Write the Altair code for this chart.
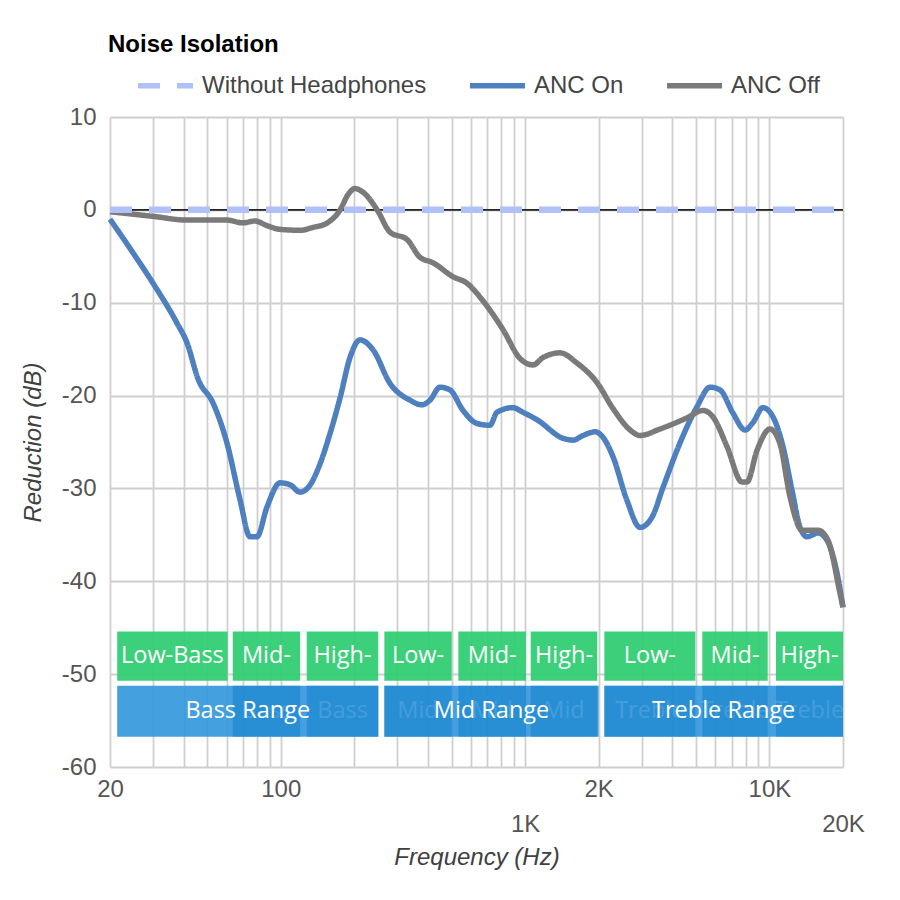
import altair as alt
import pandas as pd

# ---------------- data ----------------
on_hz = [20, 24.8, 30, 37.6, 41.3, 46, 52.8, 60.2, 68.1, 74.8, 79.9, 87.8, 99.3, 109, 120, 132,
         145, 159, 175, 192, 211, 239, 280, 338, 378, 408, 448, 493, 557, 635, 718, 767, 892,
         980, 1119, 1429, 1570, 1726, 1932, 2084, 2290, 2612, 2952, 3306, 3667, 4304, 5053,
         5712, 6276, 7093, 7943, 8564, 9410, 10340, 11364, 12368, 13344, 14250, 15804, 17206,
         18904, 20000]
on_db = [-1.0, -4.6, -7.9, -12.2, -14.3, -18.3, -20.8, -25.1, -31.2, -35.2, -35.2, -32.0, -29.4,
         -29.6, -30.4, -29.6, -27.3, -24.1, -20.2, -15.9, -14.0, -15.1, -18.7, -20.5, -21.0,
         -20.5, -19.1, -19.4, -21.6, -23.0, -23.2, -21.8, -21.3, -21.8, -22.6, -24.6, -24.8,
         -24.3, -23.9, -24.5, -26.6, -31.3, -34.2, -33.1, -29.9, -25.1, -21.2, -19.1, -19.4,
         -21.9, -23.7, -22.9, -21.3, -22.3, -25.5, -30.2, -34.2, -35.2, -34.8, -35.6, -39.1,
         -42.8]

off_hz = [20, 30, 41.3, 60.2, 70, 78.4, 87.8, 99.3, 120, 135, 155, 175, 188, 201, 217, 248, 280,
          329, 371, 420, 507, 578, 654, 718, 812, 953, 1077, 1184, 1390, 1631, 1969, 2290, 2688,
          2952, 3565, 4598, 5346, 5875, 6704, 7720, 8094, 8894, 10050, 11046, 12136, 13596,
          15804, 17370, 19446, 20000]
off_db = [-0.2, -0.7, -1.1, -1.1, -1.4, -1.2, -1.7, -2.1, -2.2, -1.9, -1.4, 0.0, 1.6, 2.3, 1.9,
          0.0, -2.4, -3.2, -5.1, -5.7, -7.2, -7.9, -9.4, -10.8, -12.9, -16.0, -16.7, -15.9,
          -15.4, -16.5, -18.6, -21.4, -23.7, -24.3, -23.6, -22.4, -21.6, -22.3, -25.5, -29.3,
          -29.3, -25.9, -23.6, -25.2, -30.9, -34.5, -34.5, -35.6, -41.3, -42.8]

ref_hz = [20, 20000]
ref_db = [0, 0]

series_names = ["Without Headphones", "ANC On", "ANC Off"]
series_colors = ["#b0c0f8", "#4e7fbf", "#7a7a7a"]
series_dash = [[22, 17], [1, 0], [1, 0]]

x_grid = [20, 30, 40, 50, 60, 70, 80, 90, 100, 200, 300, 400, 500, 600, 700, 800, 900,
          1000, 2000, 3000, 4000, 5000, 6000, 7000, 8000, 9000, 10000, 20000]
y_ticks = [10, 0, -10, -20, -30, -40, -50, -60]

green_labels = ["Low-Bass", "Mid-", "High-", "Low-", "Mid-", "High-", "Low-", "Mid-", "High-"]
green_start = [21.4, 63.6, 127.7, 265.4, 533, 1054, 2110, 5312, 10636]
green_end = [60.6, 120, 250.7, 500.6, 1008, 1974, 4973, 9836, 20000]
green_y = [-45.4, -50.7]

range_labels = ["Bass Range", "Mid Range", "Treble Range"]
range_start = [21.4, 265.4, 2110]
range_end = [250.7, 2000, 20000]
blue_y = [-51.25, -56.75]

sub_labels = ["Bass", "Bass", "Mid", "Mid", "Mid", "Treble", "Treble", "Treble"]
sub_start = green_start[1:]
sub_end = green_end[1:]

# ---------------- tables ----------------
on_df = pd.DataFrame({"hz": on_hz, "db": on_db, "series": "ANC On"})
off_df = pd.DataFrame({"hz": off_hz, "db": off_db, "series": "ANC Off"})
ref_df = pd.DataFrame({"hz": ref_hz, "db": ref_db, "series": "Without Headphones"})


def band_df(labels, start, end, yy):
    d = pd.DataFrame({"label": labels, "start": start, "end": end})
    d["y0"] = yy[0]
    d["y1"] = yy[1]
    d["mid"] = (d["start"] * d["end"]) ** 0.5
    d["ymid"] = (yy[0] + yy[1]) / 2
    return d


green_df = band_df(green_labels, green_start, green_end, green_y)
range_df = band_df(range_labels, range_start, range_end, blue_y)
sub_df = band_df(sub_labels, sub_start, sub_end, blue_y)

FONT = "Liberation Sans"
BAND_FONT = "Open Sans"
FS = 24
BFS = 23.5

x_scale = alt.Scale(type="log", domain=[20, 20000], nice=False)
y_scale = alt.Scale(domain=[-60, 10], nice=False, zero=False)

label_expr = ("datum.value == 20 ? '20' : datum.value == 100 ? '100' : "
              "datum.value == 1000 ? ['', '1K'] : datum.value == 2000 ? '2K' : "
              "datum.value == 10000 ? '10K' : datum.value == 20000 ? ['', '20K'] : ''")

x_axis = alt.Axis(values=x_grid, labelExpr=label_expr, title="Frequency (Hz)",
                  titleFontStyle="italic", titleFontWeight="normal", ticks=False, domain=False,
                  labelFlush=False, labelOverlap=False, labelPadding=10, labelLineHeight=35,
                  titlePadding=9)
y_axis = alt.Axis(values=y_ticks, labelExpr="'' + datum.value", title="Reduction (dB)",
                  titleFontStyle="italic", titleFontWeight="normal", ticks=False, domain=False,
                  labelFlush=False, labelOverlap=False, labelPadding=14, titlePadding=16)

color_enc = alt.Color("series:N", scale=alt.Scale(domain=series_names, range=series_colors),
                      legend=alt.Legend(title=None))
dash_enc = alt.StrokeDash("series:N", scale=alt.Scale(domain=series_names, range=series_dash),
                          legend=alt.Legend(title=None))


def X(field):
    return alt.X(field, scale=x_scale, axis=x_axis)


def Y(field):
    return alt.Y(field, scale=y_scale, axis=y_axis)


zero_rule = alt.Chart(ref_df).mark_rule(color="#222222", strokeWidth=1.5).encode(
    y=Y("db:Q"))

range_rect = alt.Chart(range_df).mark_rect(color="#3498db", opacity=0.92, clip=True).encode(
    x=X("start:Q"), x2="end:Q", y=Y("y0:Q"), y2="y1:Q")

sub_rect = alt.Chart(sub_df).mark_rect(color="#1382cc", opacity=0.55, clip=True).encode(
    x=X("start:Q"), x2="end:Q", y=Y("y0:Q"), y2="y1:Q")

sub_text = alt.Chart(sub_df).mark_text(font=BAND_FONT, fontSize=BFS, color="white", opacity=0.13,
                                       align="center", baseline="middle", clip=True).encode(
    x=X("mid:Q"), y=Y("ymid:Q"), text="label:N")

green_rect = alt.Chart(green_df).mark_rect(color="#2ecc71", opacity=0.93, clip=True).encode(
    x=X("start:Q"), x2="end:Q", y=Y("y0:Q"), y2="y1:Q")

green_text = alt.Chart(green_df).mark_text(font=BAND_FONT, fontSize=BFS, color="white",
                                           align="center", baseline="middle", clip=True).encode(
    x=X("mid:Q"), y=Y("ymid:Q"), text="label:N")

range_text = alt.Chart(range_df).mark_text(font=BAND_FONT, fontSize=BFS, color="white",
                                           align="center", baseline="middle", clip=True).encode(
    x=X("mid:Q"), y=Y("ymid:Q"), text="label:N")


def line_layer(df, width):
    return alt.Chart(df).mark_line(strokeWidth=width, interpolate="monotone",
                                   strokeCap="butt", strokeJoin="round").encode(
        x=X("hz:Q"), y=Y("db:Q"), color=color_enc, strokeDash=dash_enc)


on_line = line_layer(on_df, 5.5)
off_line = line_layer(off_df, 5.5)
ref_line = line_layer(ref_df, 6.5)

chart = alt.layer(
    range_rect, sub_rect, sub_text, green_rect, green_text, range_text,
    zero_rule, on_line, off_line, ref_line
).properties(
    width=733, height=650,
    title=alt.TitleParams("Noise Isolation", anchor="start", frame="group", font=FONT,
                          fontSize=FS, fontWeight="bold", color="#000000", offset=-2, dx=-2),
    autosize=alt.AutoSizeParams(type="none"),
    padding={"left": 102, "top": 109, "right": 45, "bottom": 120},
).configure_view(stroke=None).configure_axis(
    gridColor="#cfcfcf", gridWidth=1.8, labelFont=FONT, labelFontSize=FS, labelColor="#555555",
    titleFont=FONT, titleFontSize=FS, titleColor="#404040",
).configure_legend(
    orient="none", legendX=25, legendY=-62, direction="horizontal", padding=0,
    symbolType="stroke", symbolSize=3025, symbolStrokeWidth=5.5, labelFont=FONT,
    labelFontSize=FS, labelColor="#444444", labelOffset=6, columnPadding=32,
    labelLimit=400,
)

chart.save("out.html", embed_options={"renderer": "svg", "actions": False})
